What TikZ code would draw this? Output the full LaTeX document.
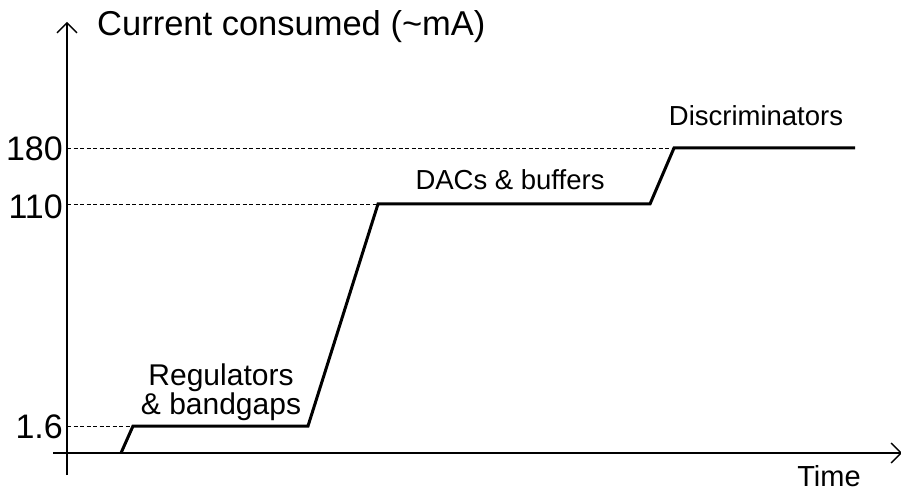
\documentclass[tikz,border=0pt]{standalone}
\usepackage{fontspec}
\setmainfont{Liberation Sans}
\usetikzlibrary{arrows.meta}
\begin{document}
\begin{tikzpicture}[x=1pt,y=-1pt,
  axis/.style={line width=1.5pt,-{Straight Barb[length=10pt,width=20pt,line width=1.3pt]}},
  level/.style={line width=3pt,line join=miter},
  guide/.style={line width=0.8pt,dash pattern=on 4pt off 2.5pt},
  ticklabel/.style={anchor=east,inner sep=0pt,font=\fontsize{34}{37}\selectfont},
  steplabel/.style={inner sep=0pt,font=\fontsize{27.5}{30}\selectfont,align=center}]
  \useasboundingbox (0,0) rectangle (901,494);
  \fill[white] (0,0) rectangle (901,494);

  % axes
  \coordinate (ybot) at (67,475);
  \coordinate (ytop) at (67,22);
  \coordinate (xleft) at (53,453);
  \coordinate (xright) at (902,453);
  \draw[axis] (ybot) -- (ytop);
  \draw[axis] (xleft) -- (xright);

  % current profile
  \coordinate (p0) at (121,453);
  \coordinate (p1) at (133,426);
  \coordinate (p2) at (308,426);
  \coordinate (p3) at (378,204);
  \coordinate (p4) at (650,204);
  \coordinate (p5) at (674,148);
  \coordinate (p6) at (855,148);
  \draw[level] (p0) -- (p1) -- (p2) -- (p3) -- (p4) -- (p5) -- (p6);

  % guide lines to the axis
  \coordinate (g1) at (67,426);
  \coordinate (g2) at (67,204);
  \coordinate (g3) at (67,148);
  \draw[guide] (g1) -- (p1);
  \draw[guide] (g2) -- (p3);
  \draw[guide] (g3) -- (p5);

  % labels
  \node[anchor=west,inner sep=0pt,font=\fontsize{34.5}{38}\selectfont] (title) at (97,27) {Current consumed (\char"007E mA)};
  \node[ticklabel] (t180) at (63,149) {180};
  \node[ticklabel] (t110) at (63,207) {110};
  \node[ticklabel] (t16) at (63,427) {1.6};
  \node[inner sep=0pt,font=\fontsize{29}{32}\selectfont] (time) at (829,476) {Time};
  \node[steplabel] (disc) at (756,116) {Discriminators};
  \node[steplabel] (dac) at (510,180) {DACs \& buffers};
  \node[steplabel,font=\fontsize{30}{27}\selectfont] (reg) at (221,392) {Regulators\\\& bandgaps};
\end{tikzpicture}
\end{document}
